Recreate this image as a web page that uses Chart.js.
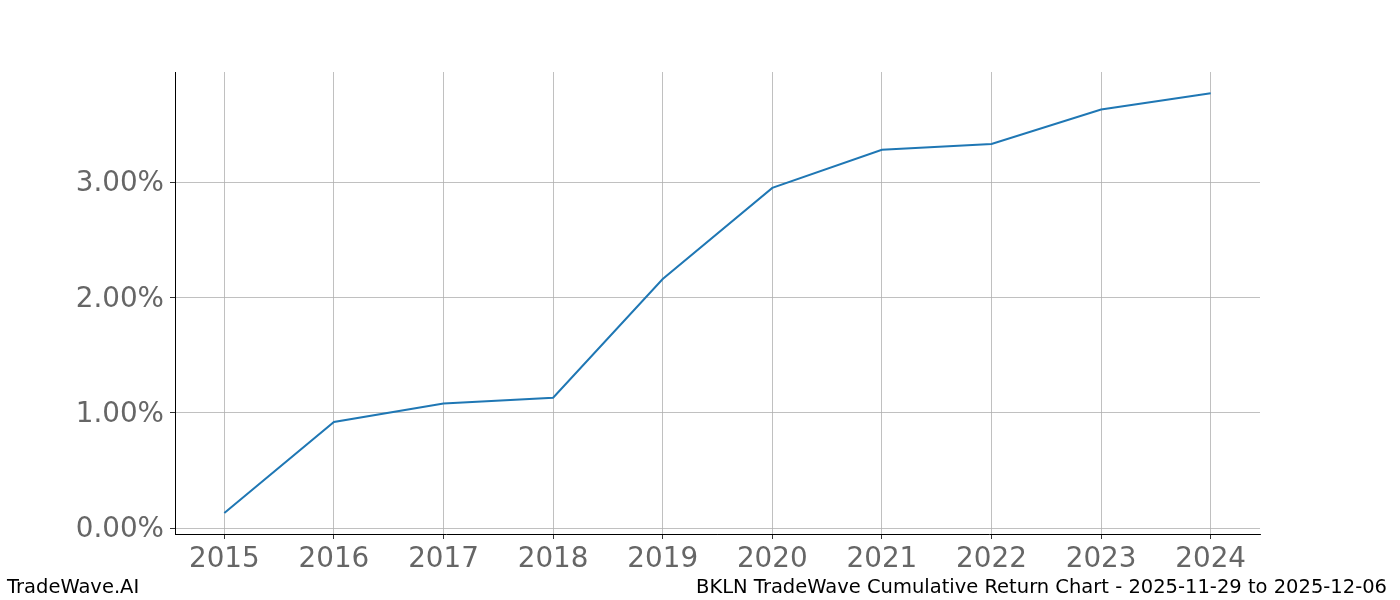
<!DOCTYPE html>
<html>
<head>
<meta charset="utf-8">
<script src="https://cdn.jsdelivr.net/npm/chart.js@4/dist/chart.umd.min.js"></script>
<style>
  html, body { margin: 0; padding: 0; background: #fff; }
  canvas { display: block; }
</style>
</head>
<body>
<canvas id="lineChart" width="1400" height="600"></canvas>
<script>
const years = [2015, 2016, 2017, 2018, 2019, 2020, 2021, 2022, 2023, 2024];
const cumReturn = [0.13, 0.92, 1.08, 1.13, 2.16, 2.95, 3.28, 3.33, 3.63, 3.77];
const yTicks = [0, 1, 2, 3];
const footerLeft = 'TradeWave.AI';
const footerRight = 'BKLN TradeWave Cumulative Return Chart - 2025-11-29 to 2025-12-06';

const FONT = "'DejaVu Sans', sans-serif";

const footer = {
  id: 'footer',
  afterDraw(chart) {
    const c = chart.ctx;
    c.save();
    c.font = '19.5px ' + FONT;
    c.fillStyle = '#000';
    c.textBaseline = 'middle';
    c.textAlign = 'left';
    c.fillText(footerLeft, 7, 588);
    c.textAlign = 'right';
    c.fillText(footerRight, 1387, 588);
    c.restore();
  }
};

const ctx = document.getElementById('lineChart').getContext('2d');
new Chart(ctx, {
  type: 'line',
  data: {
    datasets: [{
      data: years.map((y, i) => ({ x: y, y: cumReturn[i] })),
      borderColor: '#1f77b4',
      borderWidth: 2,
      pointRadius: 0,
      tension: 0,
      fill: false
    }]
  },
  options: {
    responsive: false,
    animation: false,
    layout: { padding: { top: 72, right: 140, left: 0, bottom: 0 } },
    plugins: { legend: { display: false }, tooltip: { enabled: false } },
    scales: {
      x: {
        type: 'linear',
        min: 2014.55,
        max: 2024.45,
        afterFit: s => { s.height = 66; },
        afterBuildTicks: s => { s.ticks = years.map(v => ({ value: v })); },
        ticks: {
          color: '#666',
          font: { family: FONT, size: 27.8 },
          padding: 4,
          maxRotation: 0,
          callback: v => String(v)
        },
        grid: { color: '#b0b0b0', tickColor: '#000', tickLength: 5, lineWidth: 0.8 },
        border: { color: '#000', width: 1 }
      },
      y: {
        min: -0.052,
        max: 3.955,
        afterFit: s => { s.width = 175; },
        afterBuildTicks: s => { s.ticks = yTicks.map(v => ({ value: v })); },
        ticks: {
          color: '#666',
          font: { family: FONT, size: 27.8 },
          padding: 6,
          labelOffset: 2,
          callback: v => v.toFixed(2) + '%'
        },
        grid: { color: '#b0b0b0', tickColor: '#000', tickLength: 5, lineWidth: 0.8 },
        border: { color: '#000', width: 1 }
      }
    }
  },
  plugins: [footer]
});
</script>
</body>
</html>
